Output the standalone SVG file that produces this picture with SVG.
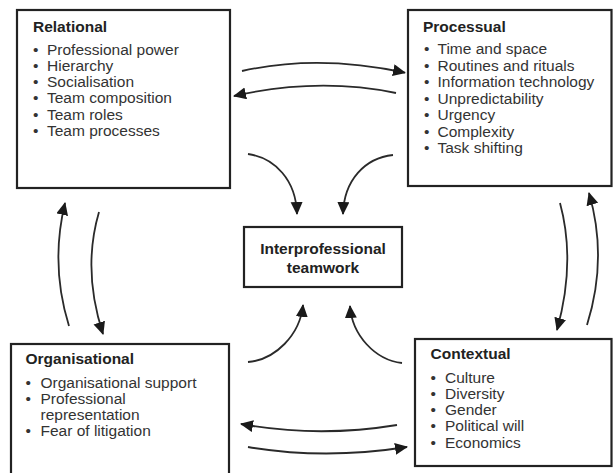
<svg xmlns="http://www.w3.org/2000/svg" width="613" height="473" viewBox="0 0 613 473">
<defs>
<style>
.box{fill:#fff;stroke:#222;stroke-width:2.2}
.t{font-family:"Liberation Sans",Arial,sans-serif;font-size:15.5px;font-weight:bold;fill:#222}
.b{font-family:"Liberation Sans",Arial,sans-serif;font-size:15.5px;fill:#333}
.c{fill:none;stroke:#2a2a2a;stroke-width:1.8}
</style>
<marker id="ah" markerUnits="userSpaceOnUse" markerWidth="14" markerHeight="13" refX="12" refY="6" orient="auto">
<path d="M0,0 L13,6 L0,12 z" fill="#1a1a1a"/>
</marker>
</defs>
<rect width="613" height="473" fill="#fff"/>
<g id="connectors">
<path class="c" marker-end="url(#ah)" d="M242,71 Q318,54 405,72.7"/>
<path class="c" marker-end="url(#ah)" d="M396,93 Q318,77 234,96"/>
<path class="c" marker-end="url(#ah)" d="M248,154 C275,158 296,180 297,214"/>
<path class="c" marker-end="url(#ah)" d="M393,155 C365,158 344,180 343,214"/>
<path class="c" marker-end="url(#ah)" d="M69,326 Q50,265 65,203"/>
<path class="c" marker-end="url(#ah)" d="M99,212 Q82,270 103,334"/>
<path class="c" marker-end="url(#ah)" d="M560,203 Q576,262 557,330"/>
<path class="c" marker-end="url(#ah)" d="M587,325 Q608,258 589,193"/>
<path class="c" marker-end="url(#ah)" d="M248,362 C275,360 300,335 303,305"/>
<path class="c" marker-end="url(#ah)" d="M402,363 C375,360 352,335 350,306"/>
<path class="c" marker-end="url(#ah)" d="M397,425 Q318,438 241,424"/>
<path class="c" marker-end="url(#ah)" d="M248,447 Q325,460 407,447"/>
</g>
<g id="relational">
<rect class="box" x="17" y="10" width="213" height="178"/>
<text class="t" x="33" y="31.5">Relational</text>
<text class="b" x="33" y="54.5">•<tspan x="47">Professional power</tspan></text>
<text class="b" x="33" y="70.8">•<tspan x="47">Hierarchy</tspan></text>
<text class="b" x="33" y="87.1">•<tspan x="47">Socialisation</tspan></text>
<text class="b" x="33" y="103.4">•<tspan x="47">Team composition</tspan></text>
<text class="b" x="33" y="119.7">•<tspan x="47">Team roles</tspan></text>
<text class="b" x="33" y="136">•<tspan x="47">Team processes</tspan></text>
</g>
<g id="processual">
<rect class="box" x="408" y="10" width="203.5" height="176"/>
<text class="t" x="423" y="31.5">Processual</text>
<text class="b" x="424" y="54">•<tspan x="437.5">Time and space</tspan></text>
<text class="b" x="424" y="70.5">•<tspan x="437.5">Routines and rituals</tspan></text>
<text class="b" x="424" y="87">•<tspan x="437.5">Information technology</tspan></text>
<text class="b" x="424" y="103.5">•<tspan x="437.5">Unpredictability</tspan></text>
<text class="b" x="424" y="120">•<tspan x="437.5">Urgency</tspan></text>
<text class="b" x="424" y="136.5">•<tspan x="437.5">Complexity</tspan></text>
<text class="b" x="424" y="153">•<tspan x="437.5">Task shifting</tspan></text>
</g>
<g id="interprofessional">
<rect class="box" x="244" y="227" width="158" height="60"/>
<text class="t" x="323" y="253.5" text-anchor="middle">Interprofessional</text>
<text class="t" x="323" y="273" text-anchor="middle">teamwork</text>
</g>
<g id="organisational">
<rect class="box" x="11" y="344" width="218" height="135"/>
<text class="t" x="25.5" y="363.5">Organisational</text>
<text class="b" x="25.5" y="387.5">•<tspan x="40.5">Organisational support</tspan></text>
<text class="b" x="25.5" y="403.5">•<tspan x="40.5">Professional</tspan></text>
<text class="b" x="40.5" y="419.5">representation</text>
<text class="b" x="25.5" y="435.5">•<tspan x="40.5">Fear of litigation</tspan></text>
</g>
<g id="contextual">
<rect class="box" x="415" y="339" width="196.5" height="127"/>
<text class="t" x="430.5" y="358.5">Contextual</text>
<text class="b" x="430.5" y="382.5">•<tspan x="445">Culture</tspan></text>
<text class="b" x="430.5" y="398.8">•<tspan x="445">Diversity</tspan></text>
<text class="b" x="430.5" y="415.1">•<tspan x="445">Gender</tspan></text>
<text class="b" x="430.5" y="431.4">•<tspan x="445">Political will</tspan></text>
<text class="b" x="430.5" y="447.7">•<tspan x="445">Economics</tspan></text>
</g>
</svg>
